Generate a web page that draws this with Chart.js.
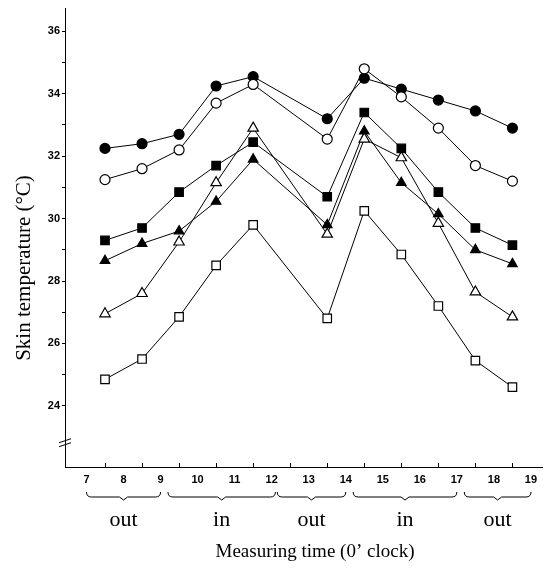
<!DOCTYPE html>
<html>
<head>
<meta charset="utf-8">
<script src="https://cdn.jsdelivr.net/npm/chart.js@4/dist/chart.umd.min.js"></script>
<style>
  html, body { margin: 0; padding: 0; background: #fff; }
  #wrap { width: 550px; height: 569px; position: relative; }
</style>
</head>
<body>
<div id="wrap"><canvas id="chart"></canvas></div>
<script>
// measuring times (half past each hour, no reading at 12:30)
const hours = [7.5, 8.5, 9.5, 10.5, 11.5, 13.5, 14.5, 15.5, 16.5, 17.5, 18.5];

// skin temperature per site (°C)
const filledCircle   = [32.25, 32.4, 32.7, 34.25, 34.55, 33.2, 34.5, 34.15, 33.8, 33.45, 32.9];
const openCircle     = [31.25, 31.6, 32.2, 33.7, 34.3, 32.55, 34.8, 33.9, 32.9, 31.7, 31.2];
const filledSquare   = [29.3, 29.7, 30.85, 31.7, 32.45, 30.7, 33.4, 32.25, 30.85, 29.7, 29.15];
const filledTriangle = [28.65, 29.2, 29.6, 30.55, 31.9, 29.8, 32.8, 31.15, 30.15, 29.0, 28.55];
const openTriangle   = [26.95, 27.6, 29.25, 31.15, 32.9, 29.5, 32.55, 31.95, 29.85, 27.65, 26.85];
const openSquare     = [24.85, 25.5, 26.85, 28.5, 29.8, 26.8, 30.25, 28.85, 27.2, 25.45, 24.6];

const xTickLabels = [7, 8, 9, 10, 11, 12, 13, 14, 15, 16, 17, 18, 19];
const yTickValues = [24, 25, 26, 27, 28, 29, 30, 31, 32, 33, 34, 35, 36];

// out / in periods under the axis
const periodNames = ["out", "in", "out", "in", "out"];
const periodStart = [7, 9.2, 12.15, 14.2, 17.2];
const periodEnd   = [9, 12.1, 14, 17, 19];

function series(values, style, fill, radius) {
  return {
    data: hours.map((h, i) => ({ x: h, y: values[i] })),
    borderColor: "#000",
    borderWidth: 1,
    pointStyle: style,
    pointRadius: radius,
    pointBackgroundColor: fill,
    pointBorderColor: "#000",
    pointBorderWidth: 1.2,
    tension: 0,
  };
}

// extra drawing: inner x ticks, axis break, braces and texts
const decorPlugin = {
  id: "decor",
  afterDraw(chart) {
    const ctx = chart.ctx;
    const x = chart.scales.x;
    const y = chart.scales.y;
    const bottom = chart.chartArea.bottom;
    const left = chart.chartArea.left;
    ctx.save();
    ctx.strokeStyle = "#000";
    ctx.fillStyle = "#000";
    ctx.lineWidth = 1;

    // small upward ticks at half hours
    for (let h = 7.5; h <= 18.5; h += 1) {
      const px = Math.round(x.getPixelForValue(h)) + 0.5;
      ctx.beginPath();
      ctx.moveTo(px, bottom);
      ctx.lineTo(px, bottom - 4);
      ctx.stroke();
    }

    // axis break
    const by = y.getPixelForValue(22.85);
    ctx.beginPath();
    ctx.moveTo(left - 6, by + 1);
    ctx.lineTo(left + 6, by - 3);
    ctx.moveTo(left - 6, by + 5);
    ctx.lineTo(left + 6, by + 1);
    ctx.stroke();

    // braces and labels
    const braceY = 497;
    for (let i = 0; i < periodNames.length; i++) {
      const x1 = x.getPixelForValue(periodStart[i]);
      const x2 = x.getPixelForValue(periodEnd[i]);
      const mid = (x1 + x2) / 2;
      ctx.beginPath();
      ctx.moveTo(x1, braceY - 5);
      ctx.quadraticCurveTo(x1, braceY, x1 + 5, braceY);
      ctx.lineTo(mid - 4, braceY);
      ctx.lineTo(mid, braceY + 3);
      ctx.lineTo(mid + 4, braceY);
      ctx.lineTo(x2 - 5, braceY);
      ctx.quadraticCurveTo(x2, braceY, x2, braceY - 5);
      ctx.stroke();

      ctx.font = "22px 'Liberation Serif', 'Times New Roman', serif";
      ctx.textAlign = "center";
      ctx.textBaseline = "alphabetic";
      ctx.fillText(periodNames[i], mid, 526);
    }

    // x title
    ctx.font = "19px 'Liberation Serif', 'Times New Roman', serif";
    ctx.textAlign = "center";
    ctx.fillText("Measuring time (0\u2019 clock)", 315, 557);

    // y title
    ctx.translate(24, 268);
    ctx.rotate(-Math.PI / 2);
    ctx.font = "21px 'Liberation Serif', 'Times New Roman', serif";
    ctx.textBaseline = "middle";
    ctx.fillText("Skin temperature (\u00b0C)", 0, 0);
    ctx.restore();
  },
};

const tickFont = { family: "'Liberation Sans', Arial, sans-serif", size: 11, weight: "bold" };

new Chart(document.getElementById("chart"), {
  type: "line",
  data: {
    datasets: [
      series(openSquare, "rect", "#fff", 6),
      series(openTriangle, "triangle", "#fff", 6),
      series(filledTriangle, "triangle", "#000", 5.5),
      series(filledSquare, "rect", "#000", 6),
      series(openCircle, "circle", "#fff", 5),
      series(filledCircle, "circle", "#000", 5),
    ],
  },
  options: {
    responsive: true,
    maintainAspectRatio: false,
    animation: false,
    layout: { padding: { top: 7, right: 7, left: 0, bottom: 0 } },
    plugins: {
      legend: { display: false },
      tooltip: { enabled: false },
    },
    scales: {
      x: {
        type: "linear",
        min: 6.42,
        max: 19.32,
        afterBuildTicks(scale) {
          scale.ticks = xTickLabels.map(v => ({ value: v }));
        },
        afterFit(scale) { scale.height = 102; },
        ticks: {
          color: "#000",
          font: tickFont,
          padding: 6,
          autoSkip: false,
          maxRotation: 0,
          callback: v => String(v),
        },
        grid: { display: true, drawOnChartArea: false, drawTicks: false },
        border: { display: true, color: "#000", width: 1 },
      },
      y: {
        type: "linear",
        min: 22.04,
        max: 36.73,
        afterBuildTicks(scale) {
          scale.ticks = yTickValues.map(v => ({ value: v }));
        },
        afterFit(scale) { scale.width = 65; },
        ticks: {
          color: "#000",
          font: tickFont,
          padding: 2,
          autoSkip: false,
          callback: v => (v % 2 === 0 ? String(v) : ""),
        },
        grid: { display: true, drawOnChartArea: false, drawTicks: true, tickLength: 3, color: "#000" },
        border: { display: true, color: "#000", width: 1 },
      },
    },
  },
  plugins: [decorPlugin],
});
</script>
</body>
</html>
